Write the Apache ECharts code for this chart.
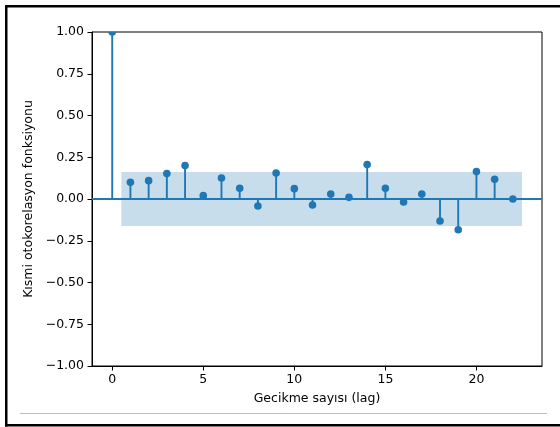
<!DOCTYPE html>
<html><head><meta charset="utf-8">
<script src="https://cdn.jsdelivr.net/npm/echarts@6/dist/echarts.min.js"></script>
<style>html,body{margin:0;padding:0;background:#fff}#c{width:560px;height:427px}</style>
</head><body><div id="c"></div>
<script>
// ---- data ----
const lags = [0,1,2,3,4,5,6,7,8,9,10,11,12,13,14,15,16,17,18,19,20,21,22];
const pacfValues = [1.0,0.10,0.11,0.152,0.20,0.02,0.126,0.064,-0.042,0.156,0.062,-0.036,0.03,0.01,0.207,0.064,-0.018,0.03,-0.132,-0.184,0.164,0.118,0.0];
const bandLags = [0.5, 22.5];
const confUpper = [0.161, 0.161];
const confLower = [-0.161, -0.161];
const xTickValues = [0,5,10,15,20];
const xLabel = 'Gecikme sayısı (lag)';
const yLabel = 'Kısmi otokorelasyon fonksiyonu';

const C0 = '#1f77b4';
const FONT = 'DejaVu Sans';
const FS = 12.5;
const txt = {fontFamily: FONT, fontSize: FS, color: '#000'};

const chart = echarts.init(document.getElementById('c'), null, {renderer: 'canvas'});
chart.setOption({
  animation: false,
  backgroundColor: '#fff',
  grid: {left: 92, top: 32, width: 450, height: 334, show: true, borderColor: '#000', borderWidth: 1, containLabel: false},
  xAxis: {
    type: 'value', min: -1.11, max: 23.6,
    splitLine: {show: false},
    axisLine: {show: true, onZero: false, lineStyle: {color: '#000', width: 1}},
    axisTick: {show: true, length: 4.5, customValues: xTickValues, lineStyle: {color: '#000', width: 1}},
    axisLabel: Object.assign({customValues: xTickValues, margin: 7}, txt),
    name: xLabel, nameLocation: 'middle', nameGap: 26, nameTextStyle: txt
  },
  yAxis: {
    type: 'value', min: -1, max: 1, interval: 0.25,
    splitLine: {show: false},
    axisLine: {show: true, onZero: false, lineStyle: {color: '#000', width: 1}},
    axisTick: {show: true, length: 4.5, lineStyle: {color: '#000', width: 1}},
    axisLabel: Object.assign({margin: 8, formatter: v => v.toFixed(2).replace('-', '\u2212')}, txt),
    name: yLabel, nameLocation: 'middle', nameGap: 45, nameRotate: 90, nameTextStyle: txt
  },
  series: [
    {
      type: 'custom',
      clip: true,
      z: 1,
      data: bandLags.map((x, i) => [x, confLower[i], confUpper[i]]),
      encode: {x: 0, y: [1, 2]},
      renderItem: function (params, api) {
        if (params.dataIndex !== 0) return null;
        const pts = [];
        for (let i = 0; i < bandLags.length; i++) pts.push(api.coord([bandLags[i], confUpper[i]]));
        for (let i = bandLags.length - 1; i >= 0; i--) pts.push(api.coord([bandLags[i], confLower[i]]));
        return {type: 'polygon', shape: {points: pts}, style: {fill: 'rgba(31,119,180,0.25)'}};
      }
    },
    {
      type: 'custom',
      clip: true,
      z: 3,
      data: lags.map((l, i) => [l, pacfValues[i]]),
      encode: {x: 0, y: 1},
      renderItem: function (params, api) {
        const p0 = api.coord([api.value(0), 0]);
        const p1 = api.coord([api.value(0), api.value(1)]);
        return {type: 'group', children: [
          {type: 'line', shape: {x1: p0[0], y1: p0[1], x2: p1[0], y2: p1[1]}, style: {stroke: C0, lineWidth: 1.9}},
          {type: 'circle', shape: {cx: p1[0], cy: p1[1], r: 3.8}, style: {fill: C0}}
        ]};
      },
      markLine: {
        silent: true, symbol: ['none', 'none'], label: {show: false},
        lineStyle: {color: C0, width: 1.9, type: 'solid'},
        data: [{yAxis: 0}]
      }
    }
  ],
  graphic: [
    {type: 'rect', shape: {x: 5, y: 5, width: 555, height: 2.5}, style: {fill: '#000'}, silent: true},
    {type: 'rect', shape: {x: 5, y: 5, width: 2.5, height: 421.5}, style: {fill: '#000'}, silent: true},
    {type: 'rect', shape: {x: 5, y: 424, width: 555, height: 2.5}, style: {fill: '#000'}, silent: true},
    {type: 'line', shape: {x1: 20, y1: 413.5, x2: 547, y2: 413.5}, style: {stroke: '#bdbdbd', lineWidth: 1}, silent: true}
  ]
});
</script>
</body></html>
